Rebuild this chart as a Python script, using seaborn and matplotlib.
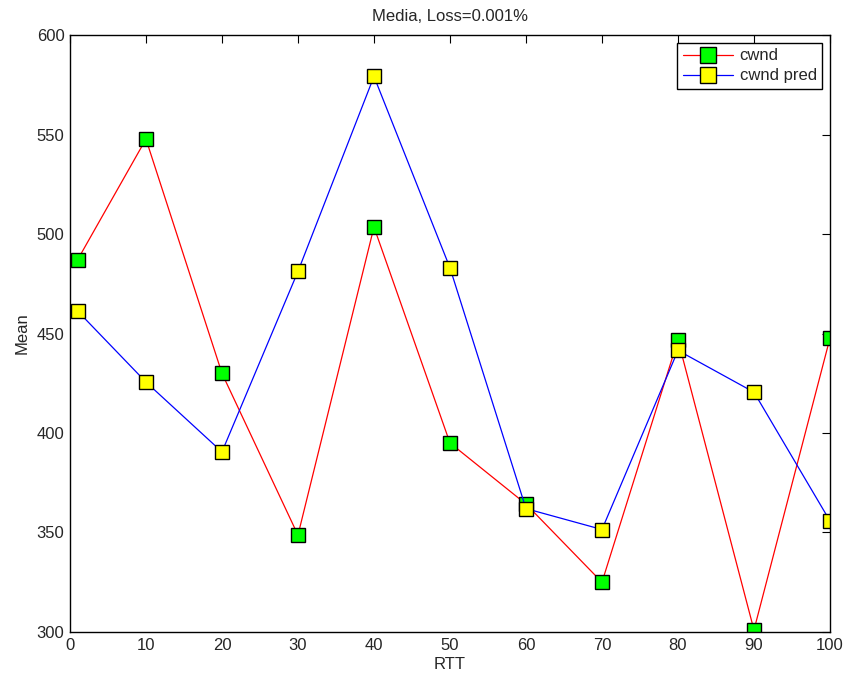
import matplotlib
matplotlib.use("Agg")
import matplotlib.pyplot as plt
import seaborn as sns
import pandas as pd

rtt = [1, 10, 20, 30, 40, 50, 60, 70, 80, 90, 100]
cwnd = [487, 547.7, 430, 348.7, 503.5, 395, 364.3, 325, 446.8, 301, 447.7]
cwnd_pred = [461.3, 425.6, 390.5, 481.2, 579.2, 483, 362, 351.5, 441.5, 420.5, 355.8]

sns.set_style("white")
plt.rcParams["font.family"] = ["Liberation Sans", "DejaVu Sans"]
plt.rcParams["xtick.direction"] = "in"
plt.rcParams["ytick.direction"] = "in"

df = pd.DataFrame({"RTT": rtt, "cwnd": cwnd, "cwnd pred": cwnd_pred})

fig = plt.figure(figsize=(8.47, 6.8), dpi=100)
ax = fig.add_axes([0.0826, 0.0706, 0.8973, 0.8779])

sns.lineplot(data=df, x="RTT", y="cwnd", ax=ax, color="red", lw=0.9,
             marker="s", markersize=10, markerfacecolor="#00ff00",
             markeredgecolor="black", markeredgewidth=1.0, label="cwnd")
sns.lineplot(data=df, x="RTT", y="cwnd pred", ax=ax, color="blue", lw=0.9,
             marker="s", markersize=10, markerfacecolor="yellow",
             markeredgecolor="black", markeredgewidth=1.0, label="cwnd pred")

ax.set_xlim(0, 100)
ax.set_ylim(300, 600)
ax.set_xticks(range(0, 101, 10))
ax.set_yticks(range(300, 601, 50))
ax.tick_params(axis="both", which="both", direction="in", top=True, right=True,
               length=6, width=0.8, labelsize=12, color="black", pad=4)
for s in ax.spines.values():
    s.set_color("black")
    s.set_linewidth(1.0)
ax.set_xlabel("RTT", fontsize=12, labelpad=3)
ax.set_ylabel("Mean", fontsize=12, labelpad=5)
ax.set_title("Media, Loss=0.001%", fontsize=12, pad=10)

leg = ax.legend(loc="upper right", fontsize=12, frameon=True, fancybox=False,
                edgecolor="black", framealpha=1, borderpad=0.35,
                labelspacing=0.3, handlelength=3.0, handletextpad=0.4,
                borderaxespad=0.45, markerscale=1.1)
leg.get_frame().set_linewidth(1.0)

fig.savefig("out.png", dpi=100)
